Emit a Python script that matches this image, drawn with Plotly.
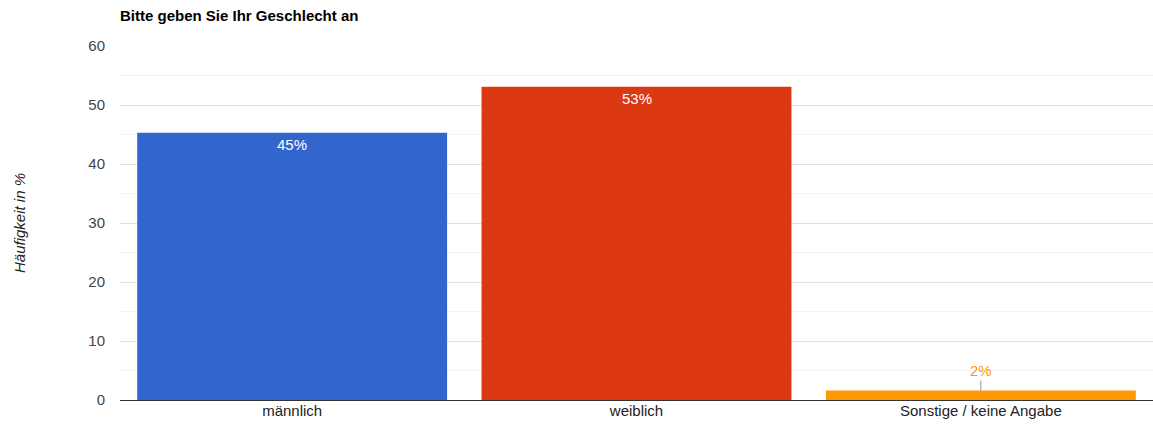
import plotly.graph_objects as go

categories = ["männlich", "weiblich", "Sonstige / keine Angabe"]
values = [45.3, 53.1, 1.6]
labels = ["45%", "53%", "2%"]
colors = ["#3366cc", "#dc3912", "#ff9900"]
label_inside = [True, True, False]

FONT = "Liberation Sans, Arial"

fig = go.Figure()
fig.add_trace(go.Bar(
    x=categories, y=values,
    marker=dict(color=colors, line=dict(width=0)),
    width=0.9, hoverinfo="skip",
))

for cat, v, lab, col, inside in zip(categories, values, labels, colors, label_inside):
    if inside:
        fig.add_annotation(x=cat, y=v, xref="x", yref="y", text=lab, showarrow=False,
                           yanchor="top", yshift=-1,
                           font=dict(family=FONT, size=15, color="#ffffff"))
    else:
        fig.add_annotation(x=cat, y=v, xref="x", yref="y", text=lab, showarrow=True,
                           arrowhead=0, arrowwidth=1, arrowcolor="#999999", ax=0, ay=-20,
                           font=dict(family=FONT, size=15, color=col))

fig.add_annotation(text="<i>Häufigkeit in %</i>", xref="paper", yref="paper",
                   x=(19 - 120) / 1033, y=0.5, textangle=-90, showarrow=False,
                   xanchor="center", yanchor="middle",
                   font=dict(family=FONT, size=15, color="#222222"))

fig.update_layout(
    width=1153, height=425,
    margin=dict(l=120, r=0, t=46, b=25),
    paper_bgcolor="white", plot_bgcolor="white",
    font=dict(family=FONT, size=15, color="#444444"),
    title=dict(text="<b>Bitte geben Sie Ihr Geschlecht an</b>", x=120 / 1153, xanchor="left",
               y=1 - 16 / 425, yanchor="middle",
               font=dict(family=FONT, size=15, color="#000000")),
    showlegend=False, bargap=0.1,
    xaxis=dict(showgrid=False, ticks="", tickfont=dict(size=15, color="#222222"),
               showline=False, zeroline=False),
    yaxis=dict(range=[0, 60], dtick=10, tick0=0, showgrid=True, gridcolor="#e0e0e0",
               zeroline=True, zerolinecolor="#333333", zerolinewidth=1,
               ticks="", ticklabelstandoff=14, tickfont=dict(size=15, color="#444444"),
               minor=dict(dtick=5, showgrid=True, gridcolor="#f3f3f3")),
)

fig.write_html("out.html")
